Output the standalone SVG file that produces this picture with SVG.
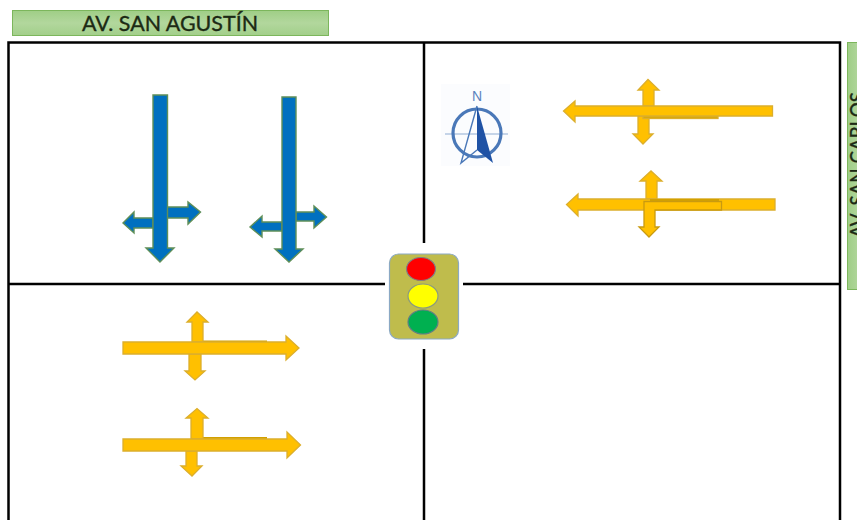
<svg xmlns="http://www.w3.org/2000/svg" width="857" height="520" viewBox="0 0 857 520">
<defs>
<linearGradient id="g" x1="0" y1="0" x2="0" y2="1"><stop offset="0" stop-color="#9fce86"/><stop offset="0.5" stop-color="#b2d79d"/><stop offset="1" stop-color="#a2cf8a"/></linearGradient>
<linearGradient id="gv" x1="0" y1="0" x2="1" y2="0"><stop offset="0" stop-color="#9fce86"/><stop offset="1" stop-color="#b2d79d"/></linearGradient>
<clipPath id="edge"><rect x="847" y="42" width="10" height="248"/></clipPath>
</defs>
<style>
.lbl{font-family:"Lato","Liberation Sans",sans-serif;fill:#1c2a14;stroke:#1c2a14;stroke-width:0.35}
.road{stroke:#7cb65c;stroke-width:1}
.grid{fill:none;stroke:#000;stroke-width:2.5}
.y{fill:#ffc000;stroke:#dcae2c;stroke-width:1.300;stroke-linejoin:miter}
.yd{fill:#d2a000}
.b{fill:#0070c0;stroke:#5f8f58;stroke-width:1.400}
.c{fill:none;stroke:#4a78b8}
</style>
<rect width="857" height="520" fill="#fff"/>
<g id="road-san-agustin">
<rect class="road" x="12.500" y="10.500" width="316" height="25" fill="url(#g)"/>
<text class="lbl" x="170" y="31" font-size="21" text-anchor="middle" textLength="176" lengthAdjust="spacingAndGlyphs">AV. SAN AGUSTÍN</text>
</g>
<g id="road-san-carlos">
<rect class="road" x="847.500" y="42.500" width="12" height="247" fill="url(#gv)"/>
<g clip-path="url(#edge)"><text class="lbl" transform="translate(865 165) rotate(-90)" font-size="21" text-anchor="middle" textLength="146" lengthAdjust="spacingAndGlyphs">AV. SAN CARLOS</text></g>
</g>
<g id="grid">
<path class="grid" d="M8.500 520V42.500H840V520"/>
<path class="grid" d="M8.500 284H385M463 284H840M424 42.500V243M424 349V520"/>
</g>
<g id="blue-arrows">
<g id="blue-1">
<polygon class="b" points="167,207 188,207 188,202 200.500,212 188,224 188,218 167,218"/>
<polygon class="b" points="153,218 134,218 134,212 123,223 134,233 134,228 153,228"/>
<polygon class="b" points="153,95 167.500,95 167.500,248 174,248 160,262 146,248 153,248"/>
</g>
<g id="blue-2">
<polygon class="b" points="296,212 314,212 314,206 326.500,217 314,228 314,221 296,221"/>
<polygon class="b" points="282,222 262,222 262,216 250,227 262,237 262,231 282,231"/>
<polygon class="b" points="282,97 296,97 296,249 303,249 289,262 275,249 282,249"/>
</g>
</g>
<g id="compass">
<rect x="441" y="84" width="69" height="82" fill="#fbfcfe"/>
<text x="477" y="101" font-family="'Liberation Sans',sans-serif" font-size="14" text-anchor="middle" fill="#5b82bd">N</text>
<circle class="c" cx="477" cy="133" r="24" stroke-width="3.200"/>
<path class="c" d="M445 134H508" stroke-width="1.200" opacity="0.6"/>
<path class="c" d="M477 106L461 163L477 150" stroke-width="1.400" fill="#fff"/>
<path d="M477 106L493 163L477 150Z" fill="#1f52a5"/>
</g>
<g id="ne-arrow-1">
<polygon class="y" points="643,106 643,90 638,90 648,79.500 659,90 654,90 654,106"/>
<polygon class="y" points="638,116 638,134 633,134 643,144 653,134 649,134 649,116"/>
<rect class="y" x="643" y="114" width="75" height="4.500" style="fill:#d9a808"/>
<polygon class="y" points="772.500,106 575,106 575,101 563.500,111 575,122 575,116 772.500,116"/>
</g>
<g id="ne-arrow-2">
<polygon class="y" points="646,199 646,181 640,181 651,171 662,181 657,181 657,199"/>
<polygon class="y" points="775,199 578,199 578,194 566.500,204.500 578,216 578,210 775,210"/>
<rect class="yd" x="650" y="199" width="69" height="2.500"/>
<polygon class="y" style="stroke:#c99a10" points="644,201.500 721.500,201.500 721.500,210 655,210 655,227 659,227 649,237 639,227 644,227"/>
</g>
<g id="sw-arrow-1">
<rect class="yd" x="203" y="340.500" width="64" height="2.500"/>
<polygon class="y" points="192,342 192,322 187,322 197,312 208,322 203,322 203,342"/>
<polygon class="y" points="189,354 189,371 185,371 195,380 205,371 201,371 201,354"/>
<polygon class="y" points="123,342 286,342 286,336 299,348 286,360 286,354 123,354"/>
</g>
<g id="sw-arrow-2">
<rect class="yd" x="203" y="437" width="64" height="2.500"/>
<polygon class="y" points="191,439 191,418 186,418 197,408.500 208,418 203,418 203,439"/>
<polygon class="y" points="186,451 186,466 181,466 192,476 202,466 197,466 197,451"/>
<polygon class="y" points="123,439 287,439 287,432 300.500,445 287,458 287,451 123,451"/>
</g>
<g id="traffic-light">
<rect x="389.500" y="254" width="69" height="85" rx="9" fill="#bfbc4c" stroke="#8ba9c4" stroke-width="1.200"/>
<ellipse cx="421" cy="269" rx="14.500" ry="11.500" fill="#f00" stroke="#7f7f85" stroke-width="1.200"/>
<ellipse cx="423" cy="296" rx="15" ry="12" fill="#ff0" stroke="#8a9a80" stroke-width="1.200"/>
<ellipse cx="423" cy="322" rx="15" ry="12" fill="#00b050" stroke="#5f7f85" stroke-width="1.200"/>
</g>
</svg>
